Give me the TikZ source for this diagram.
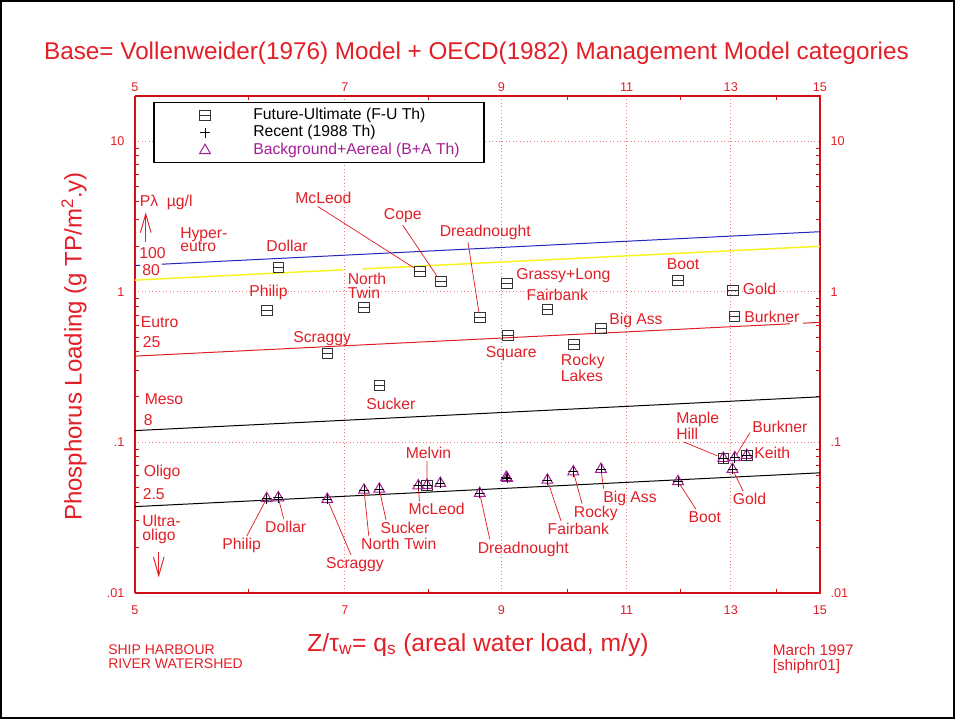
\documentclass[tikz,border=0pt]{standalone}
\usepackage{fontspec}
\setmainfont{Liberation Sans}
\usetikzlibrary{shapes.geometric,arrows.meta}
\definecolor{plotred}{RGB}{226,30,38}
\definecolor{framered}{RGB}{210,14,22}
\definecolor{gridred}{RGB}{236,120,120}
\definecolor{bapurple}{RGB}{165,30,150}
\definecolor{p100blue}{RGB}{36,36,190}
\definecolor{p80yellow}{RGB}{248,242,30}

\begin{document}
\begin{tikzpicture}[x=0.75pt,y=-0.75pt,
    lbl/.style={text=plotred,font=\fontsize{11.8}{10.3}\selectfont,inner sep=1.5pt,align=left},
    ticklbl/.style={text=plotred,font=\fontsize{9.5}{11}\selectfont,inner sep=1pt},
    note/.style={text=plotred,font=\fontsize{10.5}{10.5}\selectfont,align=left,anchor=west,inner sep=0pt},
    axlbl/.style={text=plotred,font=\fontsize{18.5}{20}\selectfont,inner sep=0pt},
    leader/.style={draw=plotred,line width=0.55pt},
    gridline/.style={draw=gridred,line width=0.6pt,dotted},
    axtick/.style={draw=framered,line width=0.7pt},
    fu/.style={draw=black!80,line width=0.7pt,rectangle,minimum width=8pt,minimum height=7.5pt,inner sep=0pt,
      path picture={\draw[black!80,line width=0.7pt] (path picture bounding box.west) -- (path picture bounding box.east);}},
    ba/.style={draw=bapurple,line width=0.75pt,regular polygon,regular polygon sides=3,minimum size=9.4pt,inner sep=0pt},
    rec/.style={rectangle,minimum size=7.5pt,inner sep=0pt,
      path picture={\draw[black,line width=0.6pt] (path picture bounding box.west) -- (path picture bounding box.east)
        (path picture bounding box.north) -- (path picture bounding box.south);}},
    model/.style={line width=0.75pt},
    pointer/.style={draw=plotred,line width=0.7pt,-{Straight Barb[length=14pt,width=8pt]}}]
    \useasboundingbox (0,0) rectangle (955,719);
    \draw[line width=1.2pt] (0.8,0.8) rectangle (954.2,718.2);
    %% title
    \node[axlbl,font=\fontsize{18.2}{20}\selectfont] (title) at (476.5,53.3)
        {Base= Vollenweider(1976) Model + OECD(1982) Management Model categories};
    %% grid, log axes: x = 135+623.5 ln(q/5), y = 592.7-150.5 log(L/.01)
    \foreach \q in {7,9,11,13}
        \draw[gridline] ({135+623.5*ln(\q/5)},96) -- ({135+623.5*ln(\q/5)},592.7);
    \foreach \e in {1,2,3}
        \draw[gridline] (135,{592.7-150.5*\e}) -- (820,{592.7-150.5*\e});
    %% minor ticks
    \foreach \e in {0,1,2}
        \foreach \m in {2,...,9}{
            \draw[axtick] (135,{592.7-150.5*(\e+log10(\m))}) -- ++(4,0);
            \draw[axtick] (820,{592.7-150.5*(\e+log10(\m))}) -- ++(-4,0);
        }
    \foreach \q in {6,8,10,12,14}{
        \draw[axtick] ({135+623.5*ln(\q/5)},96) -- ++(0,4);
        \draw[axtick] ({135+623.5*ln(\q/5)},592.7) -- ++(0,-4);
    }
    %% tick labels
    \foreach \q in {5,7,...,15}{
        \node[ticklbl] (xt\q) at ({135+623.5*ln(\q/5)},87.3) {\q};
        \node[ticklbl] (xb\q) at ({135+623.5*ln(\q/5)},610) {\q};
    }
    \foreach \e/\t in {0/.01,1/.1,2/1,3/10}{
        \node[ticklbl,anchor=east] (yl\e) at (126,{592.7-150.5*\e}) {\t};
        \node[ticklbl,anchor=west] (yr\e) at (829,{592.7-150.5*\e}) {\t};
    }
    %% frame
    \draw[framered,line width=1.4pt] (135,96) -- (820,96) -- (820,592.7) -- (135,592.7);
    \draw[framered,line width=0.9pt] (135,96) -- (135,592.7);
    %% model lines, P = 100, 80, 25, 8, 2.5
    \draw[model,p100blue] (135,265.5) -- (140,265.3) (161.7,264.2) -- (820,231.7);
    \draw[model,p80yellow,line width=1.1pt] (135,280.1) -- (343,269.8) (362.7,268.9) -- (820,246.3);
    \draw[model,plotred] (135,356.1) -- (790,323.8) (803,323.2) -- (820,322.3);
    \draw[model,black] (135,430.6) -- (820,396.8);
    \draw[model,black] (135,506.6) -- (820,472.8);
    %% legend
    \draw[fill=white,line width=0.8pt] (154,102.5) rectangle (484,162.5);
    \node[fu] (kFU) at (205,115) {};
    \node[rec] (kRec) at (205,132.7) {};
    \node[ba] (kBA) at (205,150.5) {};
    \node[lbl,text=black,anchor=west] (kFUt) at (251,115) {Future-Ultimate (F-U Th)};
    \node[lbl,text=black,anchor=west] (kRect) at (251,132.7) {Recent (1988 Th)};
    \node[lbl,text=bapurple,anchor=west] (kBAt) at (251,150) {Background+Aereal (B+A Th)};
    %% trophic classes
    \node[lbl,anchor=west] (lP) at (137.5,202.3) {Pλ\ \ µg/l};
    \draw[pointer] (145.7,241.7) -- (145.7,212.3);
    \node[lbl,anchor=west] (lHyper) at (178,239.7) {Hyper-\\eutro};
    \node[lbl,anchor=west] (l100) at (137,253.3) {100};
    \node[lbl,anchor=west] (l80) at (140,270) {80};
    \node[lbl,anchor=west] (lEutro) at (138.5,322.3) {Eutro};
    \node[lbl,anchor=west] (l25) at (140.5,342.3) {25};
    \node[lbl,anchor=west] (lMeso) at (142.5,398.7) {Meso};
    \node[lbl,anchor=west] (l8) at (141.5,420) {8};
    \node[lbl,anchor=west] (lOligo) at (141.5,472.3) {Oligo};
    \node[lbl,anchor=west] (l2p5) at (140.5,494) {2.5};
    \node[lbl,anchor=west] (lUltra) at (140,529.7) {Ultra-\\oligo};
    \draw[pointer] (158.7,551.7) -- (158.7,577.3);
    %% future-ultimate loads
    \node[fu] (uPhilip) at (267,310) {};
    \node[fu] (uDollar) at (278.3,267.7) {};
    \node[fu] (uScraggy) at (327.3,353) {};
    \node[fu] (uNTwin) at (363.7,307) {};
    \node[fu] (uSucker) at (379.3,385.3) {};
    \node[fu] (uMcLeod) at (420,271.7) {};
    \node[fu] (uCope) at (440.7,281.7) {};
    \node[fu] (uDread) at (479.7,317.3) {};
    \node[fu] (uGrassy) at (506.7,283.3) {};
    \node[fu] (uSquare) at (507.7,335.3) {};
    \node[fu] (uFair) at (547.3,309) {};
    \node[fu] (uRocky) at (574,344) {};
    \node[fu] (uBigAss) at (601,328) {};
    \node[fu] (uBoot) at (678,280.3) {};
    \node[fu] (uGold) at (733,290) {};
    \node[fu] (uBurk) at (734.3,316.3) {};
    \node[lbl] (luPhilip) at (268.5,292.3) {Philip};
    \node[lbl] (luDollar) at (287,245.7) {Dollar};
    \node[lbl] (luScraggy) at (322.2,338.3) {Scraggy};
    \node[lbl,anchor=west] (luNTwin) at (345.5,285.7) {North\\Twin};
    \node[lbl] (luSucker) at (390.8,404.3) {Sucker};
    \node[lbl] (luMcLeod) at (323.3,198.3) {McLeod};
    \node[lbl] (luCope) at (402.7,215.7) {Cope};
    \node[lbl] (luDread) at (485.3,232.7) {Dreadnought};
    \node[lbl,anchor=west] (luGrassy) at (514,275.3) {Grassy+Long};
    \node[lbl] (luSquare) at (511.2,353.7) {Square};
    \node[lbl] (luFair) at (557.3,295) {Fairbank};
    \node[lbl,anchor=west] (luRocky) at (558.7,368) {Rocky\\Lakes};
    \node[lbl,anchor=west] (luBigAss) at (607,320.8) {Big Ass};
    \node[lbl] (luBoot) at (683,264.3) {Boot};
    \node[lbl,anchor=west] (luGold) at (740.5,289.3) {Gold};
    \node[lbl,anchor=west] (luBurk) at (742,316.7) {Burkner};
    \draw[leader] (luMcLeod.235) -- (uMcLeod);
    \draw[leader] (luCope.south) -- (uCope);
    \draw[leader] (luDread.209) -- (uDread);
    %% background + recent loads
    \node[fu] (uMelvin) at (427,485.3) {};
    \node[fu] (uMaple) at (723.3,458.3) {};
    \node[fu] (uKeith) at (746.7,455.3) {};
    \foreach \n/\x/\y in {Philip/266.7/498.5, Dollar/278.3/497.7, Scraggy/327.3/499.3,
        NTwin/364/490, Sucker/379.3/489, McLeod/418.3/485.7, Melvin/427/485.3,
        Cope/440.3/483.3, Dread/479.7/493.3, Grassy/506.2/477.3, Square/507.2/478.3,
        Fair/547.3/480, Rocky/573.3/471.7, BigAss/601/469.2, Boot/678/481.5,
        Maple/723.3/458.3, Burk/734.8/457.5, Keith/746.7/455.3, Gold/732.5/469.3}{
        \node[ba] (b\n) at (\x,\y) {};
        \node[rec] (r\n) at (\x,\y) {};
    }
    \node[lbl] (llPhilip) at (241.7,545.7) {Philip};
    \node[lbl] (llDollar) at (285.7,526.7) {Dollar};
    \node[lbl] (llScraggy) at (355,564.3) {Scraggy};
    \node[lbl] (llNTwin) at (398.8,544) {North Twin};
    \node[lbl] (llSucker) at (405,528.3) {Sucker};
    \node[lbl] (llMcLeod) at (436.7,509.3) {McLeod};
    \node[lbl] (llMelvin) at (428.5,453.3) {Melvin};
    \node[lbl] (llDread) at (523.3,549) {Dreadnought};
    \node[lbl] (llFair) at (578.3,529) {Fairbank};
    \node[lbl] (llRocky) at (595.8,513.3) {Rocky};
    \node[lbl] (llBigAss) at (630,498.3) {Big Ass};
    \node[lbl] (llBoot) at (704.7,516.7) {Boot};
    \node[lbl,anchor=west] (llMaple) at (674,426) {Maple\\Hill};
    \node[lbl,anchor=west] (llBurk) at (750,427.3) {Burkner};
    \node[lbl,anchor=west] (llKeith) at (752,453.3) {Keith};
    \node[lbl] (llGold) at (749.5,499.3) {Gold};
    \draw[leader] (llPhilip) -- (bPhilip);
    \draw[leader] (llDollar) -- (bDollar);
    \draw[leader] (llScraggy) -- (bScraggy);
    \draw[leader] (llNTwin.165) -- (bNTwin);
    \draw[leader] (llSucker.157) -- (bSucker);
    \draw[leader] (llMcLeod.155) -- (bMcLeod);
    \draw[leader] (llMelvin.260) -- (uMelvin);
    \draw[leader] (llDread.164) -- (bDread);
    \draw[leader] (llFair.155) -- (bFair);
    \draw[leader] (llRocky.145) -- (bRocky);
    \draw[leader] (llBigAss.160) -- (bBigAss);
    \draw[leader] (llBoot.139) -- (bBoot);
    \draw[leader] (llMaple.229) -- (uMaple);
    \draw[leader] (llBurk.190) -- (bBurk);
    \draw[leader] (llGold.128) -- (bGold);
    %% axis titles and notes
    \node[axlbl] (xlab) at (478,645) {Z/τ\textsubscript{w}= q\textsubscript{s} (areal water load, m/y)};
    \node[axlbl,font=\fontsize{18}{20}\selectfont,rotate=90] (ylab) at (74,346.5)
        {Phosphorus Loading (g TP/m\textsuperscript{2}.y)};
    \node[note] (site) at (108,657) {SHIP HARBOUR\\RIVER WATERSHED};
    \node[note,font=\fontsize{11.5}{11.3}\selectfont] (date) at (772.5,659) {March 1997\\{[shiphr01]}};
\end{tikzpicture}
\end{document}
